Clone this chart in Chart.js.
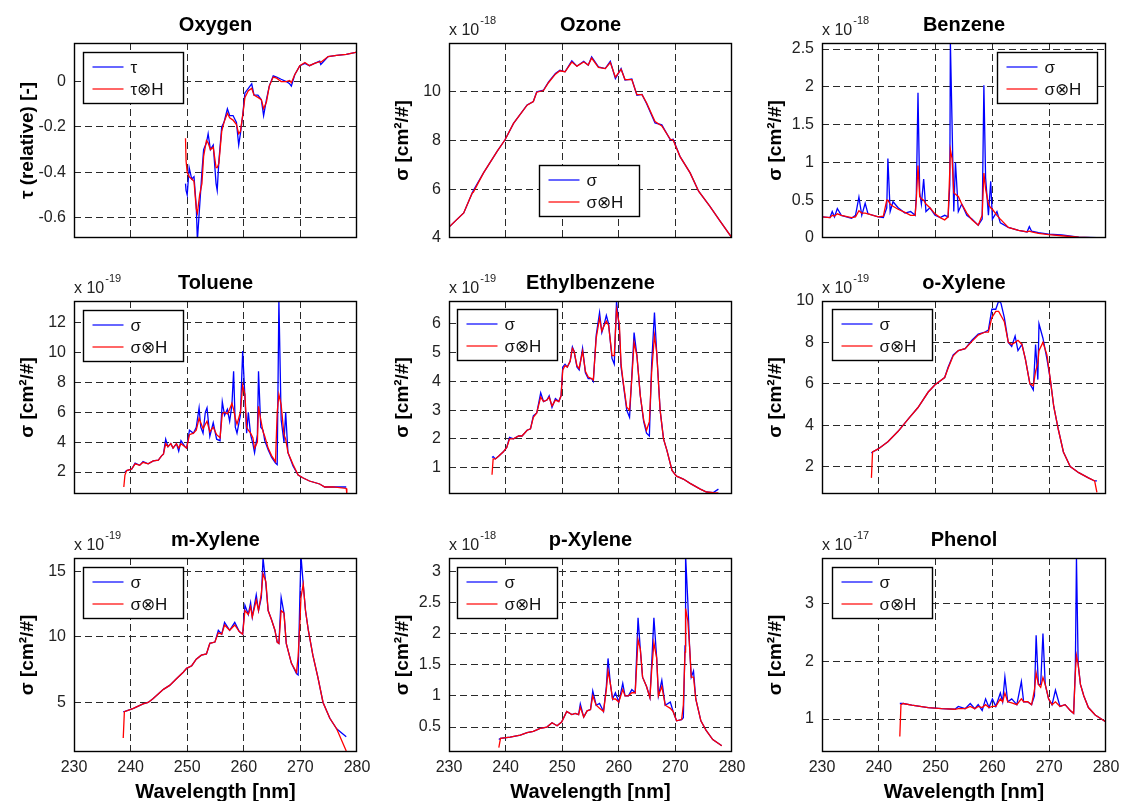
<!DOCTYPE html>
<html>
<head>
<meta charset="utf-8">
<script src="https://cdn.jsdelivr.net/npm/chart.js@4.4.1/dist/chart.umd.min.js"></script>
<style>
  html, body { margin: 0; padding: 0; background: #fff; overflow: hidden; }
  #page { position: relative; width: 1121px; height: 801px; }
  canvas { position: absolute; }
</style>
</head>
<body>
<div id="page"></div>
<script>
// ===== Data (wavelength in nm) =====
const wlTicks = [230, 240, 250, 260, 270, 280]

// Oxygen (relative optical depth)
const o2Wl = [249.7,249.8,250.0,250.35,250.8,251.2,251.6,251.8,252.2,252.6,252.9,253.4,253.7,254.1,254.6,255.1,255.3,255.6,256.1,256.5,257.1,257.5,258.1,258.7,259.1,259.4,259.8,260.2,260.8,261.4,261.8,262.5,263.1,263.5,264.0,264.5,265.2,265.8,266.6,267.5,268.1,268.4,269.0,269.9,270.8,271.6,272.5,273.4,273.6,274.9,276.4,278.1,280.0]
const o2Tau = [-0.45,-0.48,-0.50,-0.38,-0.43,-0.42,-0.55,-0.70,-0.55,-0.40,-0.30,-0.27,-0.23,-0.30,-0.28,-0.45,-0.48,-0.35,-0.20,-0.18,-0.12,-0.15,-0.15,-0.18,-0.28,-0.23,-0.15,-0.05,-0.03,-0.01,-0.06,-0.06,-0.08,-0.15,-0.08,-0.02,0.025,0.02,0.01,0.0,-0.01,-0.02,0.03,0.07,0.08,0.07,0.08,0.09,0.075,0.11,0.115,0.12,0.13]
const o2TauH = [-0.25,-0.35,-0.40,-0.42,-0.43,-0.44,-0.56,-0.58,-0.50,-0.45,-0.33,-0.26,-0.27,-0.30,-0.29,-0.38,-0.38,-0.36,-0.22,-0.18,-0.14,-0.16,-0.17,-0.19,-0.23,-0.22,-0.15,-0.07,-0.04,-0.03,-0.06,-0.07,-0.08,-0.12,-0.09,-0.02,0.02,0.015,0.0,0.0,0.005,-0.005,0.03,0.07,0.084,0.07,0.08,0.088,0.085,0.11,0.115,0.12,0.13]
const o2Ticks = [-0.6, -0.4, -0.2, 0]

// Ozone (x 1e-18)
const ozWl = [230,232.6,234.1,234.3,236.1,238.5,239.9,241.4,243.8,244.9,245.5,246.7,247.6,248.8,249.6,250.5,251.7,252.6,253.8,254.6,255.2,256.4,257.6,258.5,259.4,260.4,261.1,262.3,263.2,264.1,264.9,266.4,267.6,269.1,269.6,270.8,272.6,274.1,276.1,277.9,280]
const ozSig = [4.45,5.03,5.85,5.95,6.67,7.55,8.03,8.7,9.46,9.6,10.0,10.07,10.4,10.75,10.88,10.82,11.27,11.05,11.25,11.09,11.43,11.02,10.95,11.25,10.54,10.95,10.48,10.52,9.86,9.89,9.52,8.72,8.64,8.03,8.05,7.35,6.67,5.92,5.3,4.69,4.0]
const ozSigH = [4.45,5.03,5.85,5.88,6.67,7.55,8.03,8.7,9.45,9.6,9.98,10.05,10.38,10.72,10.86,10.82,11.22,11.05,11.22,11.1,11.38,11.0,10.95,11.2,10.6,10.92,10.5,10.5,9.88,9.88,9.55,8.78,8.6,8.05,8.02,7.35,6.67,5.92,5.3,4.69,4.0]
const ozTicks = [4, 6, 8, 10]

// Benzene (x 1e-18)
const bzWl = [230.0,231.4,231.8,232.2,232.7,233.4,235.2,235.9,236.5,237.0,237.6,238.1,239.9,240.8,241.4,241.6,242.0,242.5,243.4,244.6,245.6,246.4,246.6,246.9,247.2,247.5,247.9,248.3,249.0,249.9,250.8,251.6,252.2,252.5,252.6,252.9,253.2,253.5,254.0,254.6,255.5,256.4,257.5,258.2,258.5,258.8,259.3,259.7,260.0,260.8,261.4,262.8,264.6,266.1,266.5,266.9,268.1,269.9,272.2,275.2,278.4]
const bzSig = [0.28,0.27,0.35,0.28,0.39,0.30,0.26,0.30,0.54,0.30,0.46,0.32,0.28,0.27,0.40,1.05,0.35,0.48,0.40,0.33,0.35,0.30,0.55,1.92,0.60,0.45,0.78,0.35,0.40,0.30,0.27,0.30,0.28,0.70,2.6,1.5,0.35,1.0,0.35,0.45,0.30,0.25,0.17,0.25,2.02,0.80,0.30,0.75,0.25,0.35,0.20,0.14,0.10,0.08,0.15,0.09,0.07,0.05,0.04,0.01,0.005]
const bzSigH = [0.28,0.27,0.30,0.29,0.32,0.30,0.27,0.28,0.36,0.33,0.33,0.32,0.28,0.29,0.50,0.50,0.45,0.42,0.38,0.34,0.30,0.30,0.50,0.96,0.55,0.52,0.50,0.45,0.40,0.32,0.27,0.24,0.28,0.90,1.17,1.05,0.60,0.58,0.55,0.45,0.33,0.24,0.17,0.30,0.86,0.65,0.45,0.40,0.38,0.30,0.25,0.14,0.10,0.08,0.09,0.08,0.06,0.045,0.03,0.01,0.0]
const bzTicks = [0, 0.5, 1, 1.5, 2, 2.5]

// Toluene (x 1e-19)
const tlWl = [238.8,239.0,239.3,240.2,240.8,241.6,242.2,243.1,244.0,244.9,245.5,245.8,246.2,246.6,247.1,247.5,248.1,248.5,248.9,249.6,249.9,250.4,251.1,251.6,252.1,252.4,252.8,253.2,253.5,254.0,254.6,255.2,255.8,256.2,256.6,257.1,257.5,257.9,258.2,258.5,258.8,259.4,259.8,260.2,260.5,260.8,261.2,261.6,261.9,262.4,262.6,263.0,263.4,263.7,264.3,264.9,265.6,265.9,266.2,266.6,267.1,267.4,267.8,268.7,269.6,270.5,271.6,273.4,274.3,275.8,278.1,278.2]
const tlSig = [null,2.0,2.1,2.2,2.6,2.45,2.7,2.55,2.75,2.8,3.1,3.2,4.2,3.7,3.9,3.6,3.9,3.4,4.1,3.7,3.6,4.8,4.6,5.0,6.3,5.0,4.6,6.0,6.3,4.4,5.3,4.2,4.1,6.7,5.8,6.2,5.4,6.5,8.75,5.0,4.6,5.8,10.1,7.0,4.6,6.0,4.5,3.9,3.3,4.5,8.75,5.0,4.8,4.1,3.5,3.0,2.6,2.5,13.5,5.5,4.0,6.0,3.3,2.4,1.8,1.6,1.4,1.2,1.0,1.0,1.0,1.0]
const tlSigH = [1.0,1.8,2.1,2.2,2.55,2.45,2.65,2.55,2.75,2.8,3.1,3.2,3.9,3.7,3.9,3.6,3.9,3.6,3.9,3.7,3.6,4.5,4.6,4.8,5.6,5.3,4.9,5.2,5.4,4.7,5.0,4.5,4.3,5.9,6.0,5.9,6.2,6.6,6.2,5.6,5.2,6.0,7.8,7.2,5.0,4.8,4.6,4.3,3.6,4.0,6.4,5.5,4.7,4.4,3.6,3.1,2.7,6.0,7.2,6.5,4.5,4.2,3.3,2.5,1.8,1.6,1.4,1.2,1.0,1.0,0.9,0.55]
const tlTicks = [2, 4, 6, 8, 10, 12]

// Ethylbenzene (x 1e-19)
const ebWl = [237.6,237.8,238.2,238.8,239.6,240.2,240.7,241.4,242.3,242.9,243.8,244.4,244.9,245.5,246.2,246.7,247.3,247.7,248.2,248.8,249.4,249.8,250.1,250.5,250.9,251.4,251.8,252.1,252.6,253.0,253.6,254.1,254.6,255.2,255.5,256.0,256.6,257.0,257.3,257.8,258.2,258.8,259.2,259.6,260.1,260.4,260.8,261.4,261.9,262.3,262.7,263.2,263.8,264.4,264.9,265.4,265.8,266.3,266.7,267.3,267.9,268.5,269.4,270.2,271.4,272.6,274.4,275.5,276.7,277.6]
const ebSig = [1.35,1.38,1.3,1.4,1.55,1.7,2.05,2.0,2.1,2.1,2.3,2.35,2.8,2.9,3.6,3.3,3.35,3.5,3.1,3.4,3.3,3.5,4.5,4.6,4.5,4.7,5.2,5.05,4.5,4.4,5.15,4.3,4.1,4.1,4.0,5.6,6.4,5.7,5.9,6.3,6.0,4.8,4.6,6.8,5.8,4.5,3.9,3.0,2.75,4.2,5.7,4.9,3.5,2.6,2.2,2.1,4.6,6.4,5.0,3.0,2.0,1.6,0.9,0.7,0.6,0.45,0.25,0.15,0.13,0.25]
const ebSigH = [0.75,1.3,1.3,1.4,1.55,1.7,2.0,2.0,2.1,2.1,2.3,2.35,2.75,2.9,3.45,3.3,3.35,3.45,3.15,3.35,3.3,3.5,4.4,4.55,4.5,4.7,5.15,5.05,4.55,4.45,5.05,4.35,4.15,4.1,4.05,5.5,6.2,5.75,5.9,6.1,5.95,4.9,4.9,6.5,6.0,4.6,3.95,3.1,3.0,4.1,5.35,4.9,3.5,2.65,2.3,2.6,4.3,5.6,5.0,3.0,2.0,1.6,0.9,0.7,0.6,0.45,0.25,0.15,0.13,0.12]
const ebTicks = [1, 2, 3, 4, 5, 6]

// o-Xylene (x 1e-19)
const oxWl = [238.7,238.9,239.9,241.6,243.4,245.2,246.9,248.7,249.9,251.6,252.2,253.1,254.0,255.2,256.4,257.5,258.7,259.3,259.9,260.6,261.1,261.5,262.1,262.8,263.4,264.0,264.5,265.2,265.8,266.6,267.2,267.6,268.0,268.2,268.9,269.6,270.2,270.8,271.6,272.5,273.7,275.2,276.9,278.0,278.4]
const oxSig = [2.65,2.7,2.85,3.2,3.7,4.3,4.85,5.6,5.95,6.3,6.8,7.4,7.6,7.7,8.1,8.4,8.5,8.6,9.6,9.6,10.0,9.9,9.2,8.0,7.8,8.3,7.6,7.9,7.2,6.0,5.7,7.9,6.2,8.9,8.2,7.2,6.2,4.9,3.8,2.7,2.0,1.7,1.45,1.3,1.3]
const oxSigH = [1.45,2.7,2.85,3.2,3.7,4.3,4.85,5.6,5.95,6.3,6.75,7.35,7.6,7.7,8.05,8.35,8.5,8.5,9.2,9.5,9.5,9.3,9.0,8.0,7.9,8.0,8.1,7.9,7.2,6.0,5.9,6.6,7.0,7.6,8.0,7.4,6.2,4.9,3.8,2.7,2.0,1.7,1.45,1.3,0.75]
const oxTicks = [2, 4, 6, 8, 10]

// m-Xylene (x 1e-19)
const mxWl = [238.7,238.9,240.5,242.2,243.1,244.0,245.8,246.9,248.1,249.3,249.9,250.8,251.6,252.5,253.4,254.0,254.9,255.5,256.1,256.6,257.5,258.4,259.2,259.8,260.2,260.8,261.2,261.5,262.2,262.6,263.1,263.4,263.9,264.3,264.9,265.5,265.9,266.2,266.6,267.1,267.5,268.4,269.3,269.6,269.9,270.1,270.5,270.9,271.4,272.2,273.1,274.0,275.2,276.4,278.1]
const mxSig = [4.3,4.3,4.55,4.9,5.0,5.3,6.0,6.3,6.8,7.3,7.6,7.8,8.3,8.6,8.7,9.5,9.6,10.5,10.2,11.1,10.5,11.1,10.4,10.2,12.4,11.7,12.6,11.5,13.2,12.0,13.0,16.0,14.0,12.0,11.3,10.5,9.6,9.5,13.0,11.8,9.5,8.0,7.2,7.1,13.0,16.2,14.0,12.0,10.5,8.6,6.9,5.0,3.8,3.0,2.4]
const mxSigH = [2.3,4.3,4.55,4.9,5.0,5.3,6.0,6.3,6.8,7.3,7.6,7.8,8.3,8.6,8.7,9.5,9.6,10.3,10.2,10.9,10.5,10.9,10.4,10.2,12.0,11.7,12.3,11.5,12.8,12.0,13.3,14.8,14.2,12.0,11.3,10.5,9.6,9.5,12.0,11.8,9.5,8.0,7.3,8.5,11.0,13.0,14.0,12.0,10.5,8.6,6.9,5.0,3.8,3.0,1.3]
const mxTicks = [5, 10, 15]

// p-Xylene (x 1e-18)
const pxWl = [238.8,239.1,240.8,242.6,243.8,244.9,246.1,247.3,248.2,249.1,249.9,250.8,251.7,252.3,252.9,253.2,253.8,254.4,255.0,255.4,256.0,256.6,257.3,257.8,258.1,258.5,258.9,259.4,260.0,260.7,261.1,261.7,262.3,262.9,263.4,263.8,264.2,264.9,265.5,265.8,266.2,266.7,267.0,267.6,268.2,269.1,269.6,270.2,271.1,271.4,271.7,271.8,272.2,272.5,272.8,273.2,273.6,274.5,275.4,276.6,278.2]
const pxSig = [0.3,0.32,0.34,0.37,0.41,0.43,0.48,0.50,0.57,0.52,0.58,0.75,0.70,0.72,0.70,0.87,0.66,0.76,0.78,1.08,0.85,0.88,0.75,1.15,1.6,1.2,0.95,1.05,0.9,1.2,1.0,1.0,1.1,1.05,2.25,1.75,1.3,1.15,0.97,1.5,2.25,1.6,1.0,1.25,0.85,0.9,0.75,0.6,0.62,0.65,1.8,3.25,2.5,1.8,1.3,1.4,0.95,0.6,0.45,0.3,0.2]
const pxSigH = [0.17,0.32,0.34,0.37,0.41,0.43,0.48,0.50,0.57,0.52,0.58,0.75,0.70,0.72,0.70,0.82,0.66,0.76,0.78,1.0,0.85,0.8,0.75,1.1,1.4,1.2,0.95,0.95,0.9,1.1,1.0,1.0,1.05,1.05,1.9,1.75,1.3,1.15,0.97,1.4,1.85,1.6,1.0,1.15,0.85,0.8,0.75,0.6,0.62,0.85,1.7,2.4,2.2,1.8,1.3,1.3,0.95,0.6,0.45,0.3,0.2]
const pxTicks = [0.5, 1, 1.5, 2, 2.5, 3]

// Phenol (x 1e-17)
const phWl = [243.7,243.9,244.3,245.8,248.7,251.1,253.4,254.0,255.2,256.1,256.9,257.5,258.2,258.8,259.4,260.0,260.6,261.4,261.8,262.2,262.7,263.4,264.3,265.1,265.5,266.2,266.9,267.4,267.7,268.1,268.5,268.9,269.3,269.9,270.5,271.1,271.9,272.8,273.7,274.3,274.6,274.8,275.1,275.5,276.1,276.9,278.1,280.0]
const phSig = [1.27,1.27,1.27,1.24,1.20,1.18,1.17,1.22,1.18,1.27,1.18,1.25,1.15,1.35,1.20,1.35,1.22,1.45,1.3,1.73,1.3,1.35,1.25,1.65,1.3,1.3,1.25,1.4,2.45,1.6,1.6,2.48,1.6,1.35,1.25,1.50,1.22,1.25,1.15,1.1,1.85,3.8,1.95,1.6,1.4,1.2,1.07,0.95]
const phSigH = [0.7,1.25,1.27,1.24,1.20,1.18,1.17,1.18,1.18,1.22,1.18,1.22,1.2,1.25,1.20,1.22,1.22,1.35,1.3,1.45,1.3,1.28,1.25,1.35,1.3,1.3,1.25,1.5,1.8,1.6,1.55,1.72,1.6,1.35,1.25,1.30,1.22,1.25,1.15,1.1,1.8,2.1,1.95,1.6,1.4,1.2,1.07,0.95]
const phTicks = [1, 2, 3]

// ===== Layout =====
const FONT = "'Liberation Sans', Arial, Helvetica, sans-serif"
const colL = [74, 449, 822]
const colR = [357, 732, 1106]
const rowT = [43, 301, 558]
const rowB = [238, 494, 752]
const PAD_L = 74, PAD_T = 43, PAD_R = 16

const SIG = ['σ', 'σ⊗H']
const SIG_LABEL = 'σ [cm²/#]'

const panels = [
  { title: 'Oxygen', wl: o2Wl, a: o2Tau, b: o2TauH, names: ['τ', 'τ⊗H'], ylab: 'τ (relative) [-]', exp: null, min: -0.69, max: 0.17, ticks: o2Ticks, col: 0, row: 0, leg: [9, 9] },
  { title: 'Ozone', wl: ozWl, a: ozSig, b: ozSigH, names: SIG, ylab: SIG_LABEL, exp: '-18', min: 4, max: 12, ticks: ozTicks, col: 1, row: 0, leg: [90, 122] },
  { title: 'Benzene', wl: bzWl, a: bzSig, b: bzSigH, names: SIG, ylab: SIG_LABEL, exp: '-18', min: 0, max: 2.58, ticks: bzTicks, col: 2, row: 0, leg: [175, 9] },
  { title: 'Toluene', wl: tlWl, a: tlSig, b: tlSigH, names: SIG, ylab: SIG_LABEL, exp: '-19', min: 0.53, max: 13.45, ticks: tlTicks, col: 0, row: 1, leg: [9, 9] },
  { title: 'Ethylbenzene', wl: ebWl, a: ebSig, b: ebSigH, names: SIG, ylab: SIG_LABEL, exp: '-19', min: 0.08, max: 6.8, ticks: ebTicks, col: 1, row: 1, leg: [8, 8] },
  { title: 'o-Xylene', wl: oxWl, a: oxSig, b: oxSigH, names: SIG, ylab: SIG_LABEL, exp: '-19', min: 0.67, max: 10, ticks: oxTicks, col: 2, row: 1, leg: [10, 8] },
  { title: 'm-Xylene', wl: mxWl, a: mxSig, b: mxSigH, names: SIG, ylab: SIG_LABEL, exp: '-19', min: 1.23, max: 16, ticks: mxTicks, col: 0, row: 2, leg: [9, 9] },
  { title: 'p-Xylene', wl: pxWl, a: pxSig, b: pxSigH, names: SIG, ylab: SIG_LABEL, exp: '-18', min: 0.1, max: 3.21, ticks: pxTicks, col: 1, row: 2, leg: [8, 9] },
  { title: 'Phenol', wl: phWl, a: phSig, b: phSigH, names: SIG, ylab: SIG_LABEL, exp: '-17', min: 0.43, max: 3.79, ticks: phTicks, col: 2, row: 2, leg: [10, 9] }
]

// box, title, exponent and MATLAB-like legend
const framePlugin = {
  id: 'frame',
  afterDraw(chart, args, opts) {
    const { ctx, chartArea: c } = chart
    const L = Math.round(c.left) + 0.5, T = Math.round(c.top) + 0.5
    const R = Math.round(c.right) - 0.5, B = Math.round(c.bottom) - 0.5
    ctx.save()
    ctx.strokeStyle = '#000'
    ctx.lineWidth = 1.4
    ctx.strokeRect(L, T, R - L, B - T)

    ctx.fillStyle = '#000'
    ctx.font = `bold 20px ${FONT}`
    ctx.textAlign = 'center'
    ctx.textBaseline = 'alphabetic'
    ctx.fillText(opts.title, (c.left + c.right) / 2, c.top - 12)

    if (opts.exp) {
      ctx.textAlign = 'left'
      ctx.font = `16px ${FONT}`
      ctx.fillStyle = '#222'
      ctx.fillText('x 10', c.left, c.top - 8)
      const w = ctx.measureText('x 10').width
      ctx.font = `11px ${FONT}`
      ctx.fillText(opts.exp, c.left + w + 1, c.top - 19)
    }

    // legend
    const bx = Math.round(c.left + opts.leg[0]) + 0.5
    const by = Math.round(c.top + opts.leg[1]) + 0.5
    ctx.fillStyle = '#fff'
    ctx.fillRect(bx, by, 100, 51)
    ctx.strokeStyle = '#000'
    ctx.lineWidth = 1.4
    ctx.strokeRect(bx, by, 100, 51)
    chart.data.datasets.forEach((ds, i) => {
      const y = by + 14.5 + i * 22
      ctx.strokeStyle = ds.borderColor
      ctx.lineWidth = 1.2
      ctx.beginPath()
      ctx.moveTo(bx + 9, y)
      ctx.lineTo(bx + 40, y)
      ctx.stroke()
      ctx.fillStyle = '#111'
      ctx.font = `17px ${FONT}`
      ctx.textAlign = 'left'
      ctx.textBaseline = 'middle'
      ctx.fillText(ds.label, bx + 47, y + 1)
    })
    ctx.restore()
  }
}

const page = document.getElementById('page')

// grid lines only inside the box; the frame covers the edges
const edgeAware = (lo, hi) => ctx => {
  const v = ctx.tick ? ctx.tick.value : null
  return (v === lo || v === hi) ? 'rgba(0,0,0,0)' : '#2a2a2a'
}

panels.forEach(p => {
  const last = p.row === 2
  const left = colL[p.col], right = colR[p.col]
  const top = rowT[p.row], bottom = rowB[p.row]
  const padB = last ? 0 : 6
  const xH = last ? 50 : 0
  const W = PAD_L + (right - left) + PAD_R
  const H = PAD_T + (bottom - top) + xH + padB

  const canvas = document.createElement('canvas')
  canvas.width = W
  canvas.height = H
  canvas.style.left = (left - PAD_L) + 'px'
  canvas.style.top = (top - PAD_T) + 'px'
  canvas.style.width = W + 'px'
  canvas.style.height = H + 'px'
  page.appendChild(canvas)

  const borderOpts = { display: false, dash: [7, 4] }

  new Chart(canvas, {
    type: 'line',
    data: {
      datasets: [
        { label: p.names[0], data: p.wl.map((x, i) => ({ x, y: p.a[i] })), borderColor: '#0000ff', borderWidth: 1.3, pointRadius: 0, tension: 0, order: 1 },
        { label: p.names[1], data: p.wl.map((x, i) => ({ x, y: p.b[i] })), borderColor: '#ff0000', borderWidth: 1.3, pointRadius: 0, tension: 0, order: 0 }
      ]
    },
    options: {
      responsive: false,
      animation: false,
      events: [],
      layout: { padding: { left: 0, top: PAD_T, right: PAD_R, bottom: padB } },
      plugins: {
        legend: { display: false },
        tooltip: { enabled: false },
        frame: { title: p.title, exp: p.exp, leg: p.leg }
      },
      scales: {
        x: {
          type: 'linear', min: 230, max: 280,
          afterBuildTicks: s => { s.ticks = wlTicks.map(v => ({ value: v })) },
          afterFit: s => { s.height = xH; s.paddingLeft = 0; s.paddingRight = 0 },
          grid: { color: edgeAware(230, 280), lineWidth: 1, drawTicks: false },
          border: borderOpts,
          ticks: { display: last, autoSkip: false, maxRotation: 0, padding: 6, color: '#222', font: { family: FONT, size: 16 } },
          title: { display: last, text: 'Wavelength [nm]', color: '#000', padding: 0, font: { family: FONT, size: 20, weight: 'bold', lineHeight: 1 } }
        },
        y: {
          type: 'linear', min: p.min, max: p.max,
          afterBuildTicks: s => { s.ticks = p.ticks.map(v => ({ value: v })) },
          afterFit: s => { s.width = PAD_L; s.paddingTop = 0; s.paddingBottom = 0 },
          grid: { color: edgeAware(p.min, p.max), lineWidth: 1, drawTicks: false },
          border: borderOpts,
          ticks: { autoSkip: false, padding: 8, color: '#222', font: { family: FONT, size: 16 }, callback: v => String(v) },
          title: { display: true, text: p.ylab, color: '#000', padding: { top: 18, bottom: 0 }, font: { family: FONT, size: 19, weight: 'bold', lineHeight: 1 } }
        }
      }
    },
    plugins: [framePlugin]
  })
})
</script>
</body>
</html>
